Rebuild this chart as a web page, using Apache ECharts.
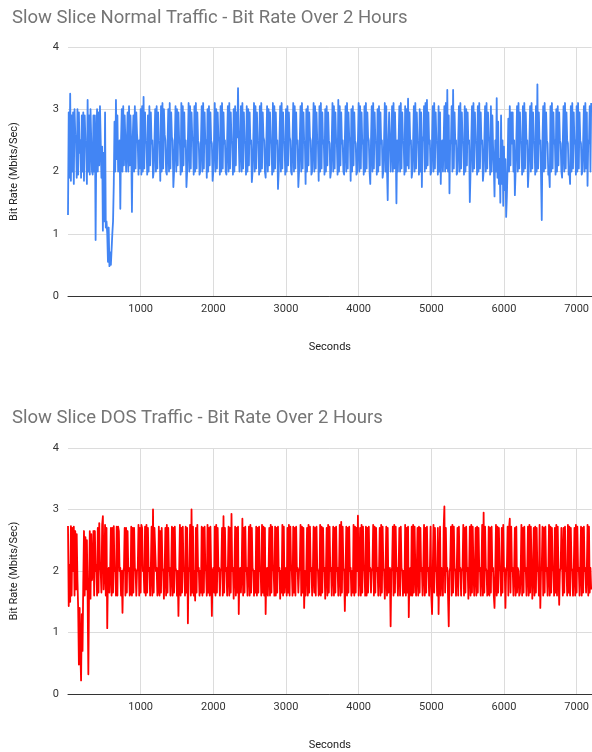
<!DOCTYPE html>
<html>
<head>
<meta charset="utf-8">
<script src="https://cdn.jsdelivr.net/npm/echarts@6/dist/echarts.min.js"></script>
<style>html,body{margin:0;padding:0;background:#fff}#c{width:592px;height:752px}</style>
</head>
<body>
<div id="c"></div>
<script>
const titles = ["Slow Slice Normal Traffic - Bit Rate Over 2 Hours", "Slow Slice DOS Traffic - Bit Rate Over 2 Hours"];
const xName = "Seconds";
const yName = "Bit Rate (Mbits/Sec)";
const STEP = 10; // seconds between samples
const normalRate = [
1.3,2.95,1.9,3.25,1.85,2.9,2.0,2.95,1.8,3.0,2.6,2.5,1.9,3.0,1.95,2.95,2.3,2.5,1.9,2.9,
2.0,2.95,1.85,2.9,2.5,2.4,1.8,3.15,2.0,2.9,1.95,3.0,2.5,2.0,1.95,2.9,2.0,2.9,0.9,2.5,
3.0,2.0,2.95,2.1,3.05,2.5,1.9,2.4,1.05,2.3,1.2,2.95,1.1,1.2,1.0,0.55,1.1,0.48,0.7,0.5,
0.5,1.0,1.2,1.8,2.8,2.0,3.15,2.2,2.9,2.0,2.0,2.5,1.4,2.5,3.0,2.0,3.05,2.1,2.9,2.5,
2.0,2.45,2.95,2.0,3.05,2.1,2.9,2.4,1.35,2.5,2.9,2.0,3.05,2.05,2.95,2.6,2.45,1.95,2.5,2.05,
3.0,1.95,3.05,2.0,3.2,2.05,2.95,2.5,2.45,1.95,2.9,2.0,3.05,2.1,2.95,2.45,2.5,1.9,2.0,2.5,
3.0,2.0,3.05,2.05,2.95,2.5,2.45,1.85,3.05,2.0,3.1,2.05,3.0,2.6,2.5,2.0,1.95,2.45,3.0,2.0,
3.1,2.05,2.95,2.55,2.5,1.75,2.0,2.5,3.05,2.0,3.0,2.1,2.95,2.5,2.45,1.95,3.1,2.0,3.05,2.1,
2.95,2.4,2.5,1.75,2.0,2.5,3.1,2.0,3.05,2.05,2.95,2.55,2.5,1.95,3.05,2.0,3.1,2.05,2.95,2.5,
2.45,1.95,2.0,2.5,3.05,2.0,3.1,2.05,2.95,2.45,2.5,1.9,3.0,2.0,3.05,2.1,2.95,2.5,2.45,1.85,
2.0,2.5,3.1,2.0,3.0,2.05,2.95,2.55,2.5,1.95,3.05,2.0,3.1,2.05,2.95,2.45,2.5,2.0,1.95,2.5,
3.05,2.0,3.1,2.05,2.95,2.5,2.45,1.95,3.0,2.0,3.05,2.1,2.95,2.55,3.34,2.5,2.0,2.45,3.05,2.0,
3.1,2.05,2.95,2.5,2.45,1.95,3.05,2.0,3.0,2.1,2.95,2.45,2.5,1.83,2.0,2.5,3.1,2.0,3.05,2.05,
2.95,2.5,2.45,1.95,3.05,2.0,3.1,2.05,2.95,2.55,2.5,2.0,1.9,2.5,3.05,2.0,3.0,2.1,2.95,2.5,
2.45,1.95,3.1,2.0,3.05,2.05,2.95,2.45,2.5,1.72,2.0,2.5,3.05,2.0,3.1,2.05,2.95,2.5,2.45,1.95,
3.0,2.0,3.05,2.1,2.95,2.55,2.5,2.0,1.95,2.5,3.1,2.0,3.05,2.05,2.95,2.45,2.5,1.75,2.0,2.5,
3.05,2.0,3.1,2.05,2.95,2.5,2.45,1.8,3.0,2.0,3.05,2.1,2.95,2.55,2.5,1.95,2.0,2.5,3.1,2.0,
3.05,2.05,2.95,2.5,2.45,1.85,3.05,2.0,3.1,2.05,2.95,2.45,2.5,1.95,3.0,2.0,3.05,2.1,2.95,2.5,
2.45,1.9,2.0,2.5,3.1,2.0,3.05,2.05,2.95,2.5,2.45,1.95,3.15,2.0,3.05,2.1,2.95,2.45,2.5,2.0,
1.95,2.5,3.05,2.0,3.1,2.05,2.95,2.55,2.5,1.85,3.0,2.0,3.05,2.1,2.95,2.5,2.45,1.95,2.0,2.5,
3.1,2.0,3.05,2.05,2.95,2.45,2.5,1.95,3.05,2.0,3.1,2.05,2.95,2.55,2.5,2.0,1.8,2.5,3.05,2.0,
3.1,2.05,2.95,2.5,2.45,1.95,3.0,2.0,3.05,2.1,2.95,2.45,2.5,1.9,2.0,2.5,3.1,2.0,3.05,2.05,
1.54,2.5,2.95,2.5,2.0,2.45,3.05,2.0,3.1,2.05,2.95,2.45,1.49,2.5,2.0,2.5,3.05,2.0,3.1,2.05,
2.95,2.5,2.45,1.95,3.05,2.0,3.0,2.1,3.17,2.05,2.95,2.45,2.5,1.9,2.0,2.5,3.05,2.0,3.1,2.05,
2.95,2.5,2.45,1.95,3.0,2.0,2.95,1.75,2.55,2.5,3.05,2.0,3.1,2.05,3.15,2.1,2.95,2.45,2.5,1.95,
2.0,2.5,3.05,2.0,3.1,2.05,2.95,2.5,2.45,1.95,3.05,2.0,2.95,1.8,2.45,2.5,2.0,2.5,3.05,2.0,
3.1,2.05,3.31,2.0,2.9,1.65,2.5,2.45,3.05,2.0,3.31,2.05,2.95,2.45,2.5,1.95,2.0,2.5,3.05,2.0,
3.1,2.05,2.95,2.5,2.45,1.95,3.05,2.0,3.0,2.1,2.95,2.45,2.5,1.51,2.0,2.5,3.05,2.0,3.1,2.05,
2.95,2.5,2.45,1.95,3.05,2.0,3.1,2.05,2.95,2.45,2.5,1.85,2.0,2.5,3.05,2.0,3.1,2.05,2.95,2.55,
2.5,1.95,3.05,2.0,2.9,2.4,2.1,1.6,2.5,2.0,3.18,1.9,2.8,1.8,2.2,1.5,2.9,1.8,2.5,1.45,
2.4,1.7,2.2,1.27,1.6,2.1,2.85,2.0,3.05,2.1,2.95,2.45,2.95,2.0,2.5,1.62,2.0,2.5,3.05,2.0,
3.1,2.05,2.95,2.5,2.45,1.95,3.05,2.0,3.1,2.05,2.95,2.45,2.5,1.75,2.0,2.5,3.05,2.0,3.1,2.05,
2.95,2.5,2.45,1.95,3.05,2.0,3.4,2.05,2.95,2.45,2.5,1.95,1.22,2.5,3.05,2.0,3.1,2.05,2.95,2.5,
2.45,1.95,2.0,1.75,3.05,2.0,3.1,2.05,2.95,2.45,2.5,1.95,3.0,2.0,3.05,2.1,2.95,2.5,2.45,2.0,
1.9,2.5,3.05,2.0,3.1,2.05,2.95,2.5,2.45,1.95,2.0,1.8,3.05,2.0,3.1,2.05,2.95,2.45,2.5,1.95,
3.05,2.0,3.1,2.05,2.95,2.5,2.45,1.95,2.0,2.5,3.05,2.0,3.1,2.05,2.95,1.77,2.5,2.45,3.05,2.0,
3.1
];
const dosRate = [
2.73,1.43,2.1,1.5,2.73,1.6,2.7,2.0,2.72,1.6,2.65,1.7,2.6,1.85,1.4,0.48,1.4,0.7,0.22,1.3,
0.7,1.8,2.65,1.6,2.55,1.7,2.5,1.6,0.32,1.7,2.65,1.55,2.6,1.85,2.0,2.65,1.6,2.65,2.0,2.1,
1.6,2.7,1.65,2.78,2.1,2.0,1.65,2.75,2.89,1.7,2.0,2.75,1.6,2.7,1.07,2.0,2.05,1.65,2.0,2.7,
1.6,2.7,1.65,2.73,2.0,2.05,1.6,2.72,1.6,2.72,2.65,2.0,2.05,1.6,2.0,1.32,2.0,2.05,2.7,1.6,
2.7,1.65,2.65,2.0,2.05,1.6,1.65,2.72,1.6,2.7,1.65,2.7,2.05,2.0,1.6,2.0,2.05,2.75,1.6,2.7,
1.65,2.75,2.7,2.0,2.05,1.65,2.72,1.6,2.75,1.65,2.7,2.0,2.05,1.6,2.05,2.72,1.6,3.0,1.65,2.7,
2.7,2.0,2.05,1.6,1.7,2.72,1.6,2.65,1.65,2.7,2.05,2.0,1.55,2.0,2.7,1.6,2.75,1.65,2.7,2.0,
2.05,1.6,2.0,2.72,1.6,2.7,1.65,2.72,2.05,2.0,1.6,2.0,1.27,2.0,2.75,1.6,2.7,1.65,2.72,2.0,
2.05,1.6,2.72,1.65,2.7,1.15,2.05,2.0,2.75,1.6,3.0,1.65,2.72,1.6,2.0,1.52,2.7,1.65,2.75,2.0,
2.05,1.6,2.0,1.65,2.72,1.6,2.7,1.65,2.72,2.05,2.0,1.6,2.75,1.65,2.7,1.6,2.72,2.0,1.27,2.0,
2.05,1.65,2.72,1.6,2.75,1.65,2.7,2.0,2.05,1.6,2.0,2.05,2.7,1.6,2.89,1.65,2.7,2.0,2.05,1.6,
2.0,2.72,1.6,2.7,1.65,2.93,2.0,2.05,1.55,2.0,2.72,1.6,2.7,1.65,2.72,1.3,2.0,2.05,1.65,2.0,
2.85,1.6,2.7,1.65,2.72,2.0,2.05,1.6,2.0,2.72,1.6,2.75,1.65,2.7,2.05,2.0,1.6,2.0,1.65,2.72,
1.6,2.7,1.65,2.72,2.0,2.05,1.6,2.75,1.65,2.72,1.6,2.7,1.3,2.0,2.05,1.6,2.0,2.7,1.6,2.75,
1.65,2.72,2.05,2.0,1.6,2.72,1.6,2.7,1.65,2.72,2.0,2.05,1.55,2.0,1.65,2.75,1.6,2.72,1.65,2.0,
2.05,1.6,2.7,1.65,2.75,1.6,2.72,2.05,2.0,1.6,2.72,1.65,2.7,1.6,2.72,2.0,2.05,1.65,2.0,2.05,
2.75,1.6,2.72,1.65,2.7,1.4,2.0,1.6,2.05,2.7,1.6,2.75,1.65,2.72,2.0,2.05,1.6,2.0,2.72,1.65,
2.7,1.6,2.72,2.05,2.0,1.6,1.65,2.75,1.6,2.72,1.65,2.7,2.0,2.05,1.55,2.0,2.7,1.6,2.75,1.65,
2.72,2.0,2.05,1.6,2.05,2.72,1.6,2.7,1.65,2.72,2.0,2.05,1.6,2.0,2.75,1.6,2.8,1.65,2.72,2.05,
2.0,1.35,2.0,2.72,1.6,2.7,1.65,2.72,2.0,2.05,1.6,2.0,1.65,2.75,1.6,2.72,1.65,2.7,2.0,2.9,
1.6,2.05,2.7,1.6,2.75,1.65,2.72,2.05,2.0,1.6,2.72,1.6,2.7,1.65,2.72,2.0,2.05,1.65,2.0,2.05,
2.75,1.6,2.72,1.65,2.7,2.0,2.05,1.6,2.0,2.7,1.6,2.75,1.65,2.72,2.05,2.0,1.55,2.0,2.72,1.6,
2.7,1.65,2.0,2.05,1.1,2.0,2.05,2.72,1.6,2.75,1.65,2.72,2.0,2.05,1.6,2.0,2.7,1.6,2.72,2.05,
2.0,1.6,2.0,1.65,2.75,1.6,2.7,1.65,2.72,1.25,2.0,2.05,1.6,2.72,1.6,2.75,1.65,2.72,2.05,1.6,
2.0,2.7,1.6,2.72,1.65,2.7,2.0,2.05,1.6,2.05,2.75,1.6,2.7,1.65,2.72,2.0,2.05,1.6,2.0,2.72,
1.6,1.3,2.0,2.75,1.65,2.7,2.0,2.05,1.6,2.7,1.3,2.0,2.72,1.6,2.05,2.0,1.6,2.7,3.05,1.65,
2.7,2.0,2.05,1.6,1.1,2.0,2.05,2.72,1.6,2.75,1.65,2.72,2.05,2.0,1.6,2.0,2.7,1.6,2.72,2.0,
2.05,1.6,2.0,2.05,2.75,1.6,2.7,1.65,2.72,2.0,2.05,1.55,2.0,2.72,1.6,2.75,1.65,2.72,2.05,1.6,
2.0,2.7,1.6,2.72,1.65,2.7,2.0,2.05,1.6,2.0,2.75,1.6,2.95,1.65,2.72,2.05,2.0,1.6,1.65,2.72,
1.6,2.7,1.65,2.72,2.0,2.05,1.6,1.4,2.0,2.75,1.6,2.72,1.65,2.7,2.05,2.0,1.6,2.7,1.65,2.75,
2.0,2.05,1.4,2.0,2.05,2.72,1.6,2.7,2.85,1.65,2.72,2.0,2.05,1.6,2.0,2.7,1.6,2.72,1.65,2.05,
2.0,1.6,1.65,2.0,2.75,1.6,2.7,1.65,2.72,2.0,2.05,1.6,2.0,2.72,1.6,2.75,1.65,2.72,2.05,1.55,
2.0,2.7,1.6,2.72,1.65,2.7,2.0,2.05,1.6,2.75,1.4,2.0,2.05,2.72,1.6,2.7,1.65,2.72,2.0,2.05,
1.6,2.0,2.75,1.6,2.72,1.65,2.7,2.05,2.0,1.6,2.7,1.65,2.75,1.6,2.72,2.0,1.45,2.0,2.05,2.7,
2.72,1.6,2.7,1.65,2.72,2.0,2.05,1.6,2.75,1.65,2.72,1.6,2.7,2.05,2.0,1.6,2.0,2.7,1.6,2.75,
1.65,2.72,2.0,2.05,1.6,2.05,2.72,1.6,2.7,1.65,2.72,2.0,2.05,1.65,2.0,2.75,1.6,2.72,1.65,2.05,
1.7
];
const yTicks = [0, 1, 2, 3, 4];

const toPairs = arr => arr.map((v, i) => [i * STEP, v]);
const FONT = 'Roboto, Arial, sans-serif';

function xAxis(gi) {
  return {
    type: 'value', gridIndex: gi, min: 0, max: 7208, interval: 1000,
    name: xName, nameLocation: 'middle', nameGap: 46,
    nameTextStyle: { fontFamily: FONT, fontSize: 11, color: '#222' },
    axisLine: { show: true, lineStyle: { color: '#333', width: 1 } },
    axisTick: { show: false },
    axisLabel: { showMinLabel: false, showMaxLabel: false, fontFamily: FONT, fontSize: 11, color: '#333', margin: 8,
      formatter: v => String(v) },
    splitLine: { show: true, showMinLine: false, showMaxLine: false, lineStyle: { color: '#dcdcdc', width: 1 } }
  };
}
function yAxis(gi) {
  return {
    type: 'value', gridIndex: gi, min: yTicks[0], max: yTicks[yTicks.length - 1], interval: 1,
    name: yName, nameLocation: 'middle', nameGap: 48,
    nameTextStyle: { fontFamily: FONT, fontSize: 11, color: '#222' },
    axisLine: { show: false }, axisTick: { show: false },
    axisLabel: { fontFamily: FONT, fontSize: 11, color: '#333', margin: 9 },
    splitLine: { show: true, lineStyle: { color: '#dcdcdc', width: 1 } }
  };
}

const chart = echarts.init(document.getElementById('c'), null, { renderer: 'canvas' });
chart.setOption({
  animation: false,
  backgroundColor: '#fff',
  title: [
    { text: titles[0], left: 7, top: 4, textStyle: { fontFamily: FONT, fontSize: 18.5, fontWeight: 'normal', color: '#757575' } },
    { text: titles[1], left: 7, top: 404, textStyle: { fontFamily: FONT, fontSize: 18.5, fontWeight: 'normal', color: '#757575' } }
  ],
  grid: [
    { left: 68, right: 0, top: 47, height: 249 },
    { left: 68, right: 0, top: 448, height: 249 }
  ],
  xAxis: [xAxis(0), xAxis(1)],
  yAxis: [yAxis(0), yAxis(1)],
  series: [
    { type: 'line', xAxisIndex: 0, yAxisIndex: 0, data: toPairs(normalRate), showSymbol: false, sampling: 'none',
      lineStyle: { color: '#4285f4', width: 1.8, join: 'round' }, itemStyle: { color: '#4285f4' } },
    { type: 'line', xAxisIndex: 1, yAxisIndex: 1, data: toPairs(dosRate), showSymbol: false, sampling: 'none',
      lineStyle: { color: '#ff0000', width: 1.8, join: 'round' }, itemStyle: { color: '#ff0000' } }
  ]
});
</script>
</body>
</html>
